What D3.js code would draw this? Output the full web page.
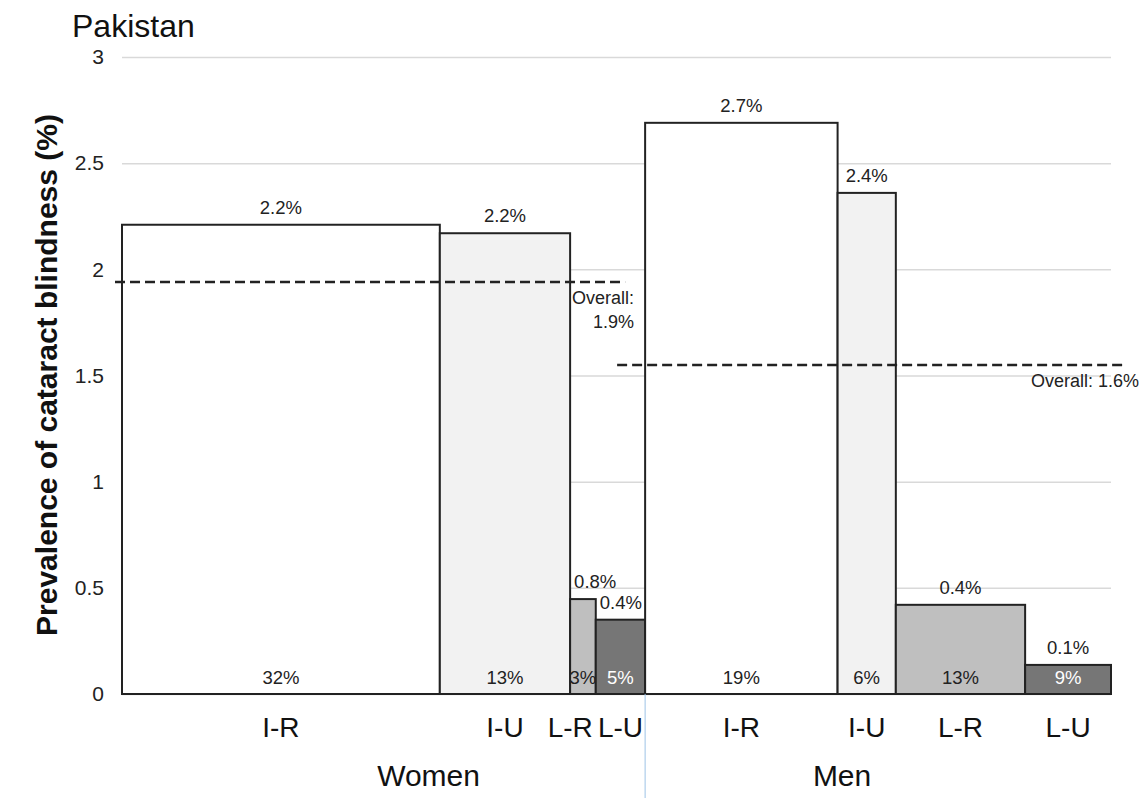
<!DOCTYPE html>
<html>
<head>
<meta charset="utf-8">
<script src="https://cdn.jsdelivr.net/npm/d3@7"></script>
<style>
  html, body { margin: 0; padding: 0; background: #fff; }
  svg { display: block; font-family: Arial, "Liberation Sans", sans-serif; }
</style>
</head>
<body>
<svg id="chart" width="1144" height="798"></svg>
<script>
// ---- data ----
const groups = ["Women", "Men"];
const categories = ["I-R", "I-U", "L-R", "L-U"];
const womenShare = [32.2, 13.2, 2.6, 5.0];      // population share (%), bar width
const menShare = [19.5, 5.9, 13.1, 8.7];
const womenPrev = [2.21, 2.17, 0.447, 0.35];    // prevalence (%), bar height
const menPrev = [2.69, 2.36, 0.42, 0.137];
const womenPrevLabels = ["2.2%", "2.2%", "0.8%", "0.4%"];
const menPrevLabels = ["2.7%", "2.4%", "0.4%", "0.1%"];
const womenShareLabels = ["32%", "13%", "3%", "5%"];
const menShareLabels = ["19%", "6%", "13%", "9%"];
const overallValues = [1.94, 1.55];
const overallLabels = [["Overall:", "1.9%"], ["Overall: 1.6%"]];
const yTicks = [0, 0.5, 1, 1.5, 2, 2.5, 3];
const catFill = ["#ffffff", "#f2f2f2", "#bfbfbf", "#767676"];
const shareTextFill = ["#222", "#222", "#222", "#ffffff"];

// ---- build bar table ----
const bars = [];
let cum = 0;
[[womenShare, womenPrev, womenPrevLabels, womenShareLabels],
 [menShare, menPrev, menPrevLabels, menShareLabels]].forEach((g, gi) => {
  g[0].forEach((s, i) => {
    bars.push({group: groups[gi], gi, cat: categories[i], ci: i, x0: cum, x1: cum + s,
               v: g[1][i], vLabel: g[2][i], sLabel: g[3][i]});
    cum += s;
  });
});
const total = cum;
const womenTotal = d3.sum(womenShare);

const svg = d3.select("#chart");
const x = d3.scaleLinear().domain([0, total]).range([122, 1111]);
const y = d3.scaleLinear().domain([0, 3]).range([694, 57]);

// title
svg.append("text").attr("x", 72).attr("y", 37).attr("font-size", 32).attr("fill", "#111").text("Pakistan");

// y axis with gridlines
const yAxis = d3.axisLeft(y).tickValues(yTicks).tickFormat(d3.format("~g"))
  .tickSizeInner(-(x.range()[1] - x.range()[0])).tickSizeOuter(0).tickPadding(18);
const ga = svg.append("g").attr("transform", `translate(${x.range()[0]},0)`).call(yAxis);
ga.select(".domain").remove();
ga.selectAll(".tick line").attr("stroke", "#d9d9d9").attr("stroke-width", 1.5);
ga.selectAll(".tick text").attr("font-size", 21).attr("fill", "#222")
  .attr("font-family", "Arial, 'Liberation Sans', sans-serif");

// y title
svg.append("text")
  .attr("transform", `translate(57,375) rotate(-90)`)
  .attr("text-anchor", "middle").attr("font-size", 30).attr("font-weight", "bold").attr("fill", "#111")
  .text("Prevalence of cataract blindness (%)");

// bars
svg.append("g").selectAll("rect").data(bars).join("rect")
  .attr("x", d => x(d.x0)).attr("width", d => x(d.x1) - x(d.x0))
  .attr("y", d => y(d.v)).attr("height", d => y(0) - y(d.v))
  .attr("fill", d => catFill[d.ci]).attr("stroke", "#222").attr("stroke-width", 2);

// value labels
const vl = svg.append("g").selectAll("text").data(bars).join("text")
  .attr("text-anchor", "middle").attr("font-size", 18.5).attr("fill", "#222")
  .attr("y", d => y(d.v) - 11).text(d => d.vLabel);
vl.attr("x", function(d) {
  const c = (x(d.x0) + x(d.x1)) / 2;
  const w = this.getComputedTextLength();
  return Math.max(c, x(d.x0) + w / 2 + 4);
});

// share labels
svg.append("g").selectAll("text").data(bars).join("text")
  .attr("text-anchor", "middle").attr("font-size", 18.5)
  .attr("fill", d => shareTextFill[d.ci])
  .attr("x", d => (x(d.x0) + x(d.x1)) / 2).attr("y", y(0) - 10).text(d => d.sLabel);

// category labels (a label too wide for a narrow bar is right-aligned to the bar's edge)
const cl = svg.append("g").selectAll("text").data(bars).join("text")
  .attr("font-size", 28).attr("fill", "#111").attr("y", 737).text(d => d.cat);
cl.each(function(d) {
  const w = this.getComputedTextLength();
  const bw = x(d.x1) - x(d.x0);
  const sel = d3.select(this);
  if (w > bw && d.ci === 2) {
    sel.attr("text-anchor", "end").attr("x", x(d.x1) - 3);
  } else {
    sel.attr("text-anchor", "middle").attr("x", (x(d.x0) + x(d.x1)) / 2);
  }
});

// separator
svg.append("line").attr("x1", x(womenTotal)).attr("x2", x(womenTotal))
  .attr("y1", y(0)).attr("y2", 798).attr("stroke", "#9dc3e6").attr("stroke-width", 1);

// group labels
const groupRanges = [[0, womenTotal], [womenTotal, total]];
const groupDx = [45, -36];
svg.append("g").selectAll("text").data(groups).join("text")
  .attr("text-anchor", "middle").attr("font-size", 30).attr("fill", "#111")
  .attr("x", (d, i) => (x(groupRanges[i][0]) + x(groupRanges[i][1])) / 2 + groupDx[i])
  .attr("y", 786).text(d => d);

// overall dashed lines
const dashX = [[x(0) - 7, x(womenTotal) - 20], [x(womenTotal) - 28, x(total) + 16]];
svg.append("g").selectAll("line").data(overallValues).join("line")
  .attr("x1", (d, i) => dashX[i][0]).attr("x2", (d, i) => dashX[i][1])
  .attr("y1", d => y(d)).attr("y2", d => y(d))
  .attr("stroke", "#222").attr("stroke-width", 2.5).attr("stroke-dasharray", "10,5");

const labelRight = [x(womenTotal) - 11, 1139];
overallLabels.forEach((lines, i) => {
  lines.forEach((t, j) => {
    svg.append("text").attr("text-anchor", "end").attr("font-size", 18).attr("fill", "#222")
      .attr("x", labelRight[i]).attr("y", y(overallValues[i]) + 22 + j * 24).text(t);
  });
});
</script>
</body>
</html>
